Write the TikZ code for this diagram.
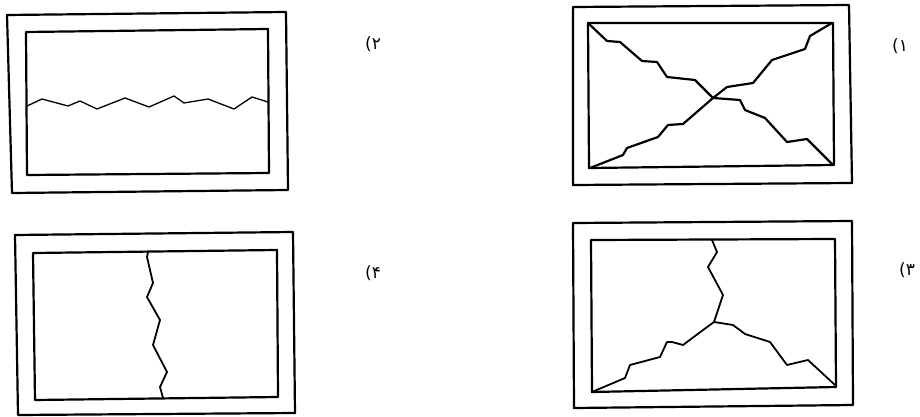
\documentclass[tikz,border=0pt]{standalone}
\usepackage{fontspec}
\newfontfamily\arabicfont[Script=Arabic]{DejaVu Sans}
\begin{document}
\begin{tikzpicture}[x=1pt,y=-1pt,
	winframe/.style={line width=2.2pt,line join=round},
	crack/.style={line width=1.8pt,line join=round},
	numlabel/.style={font=\arabicfont\fontsize{17}{17}\selectfont}]
	\useasboundingbox (0,0) rectangle (920,417);
	\draw[winframe] (7,15) -- (286,12) -- (288,190) -- (12,193) -- cycle;
	\draw[winframe] (26,32) -- (268,29) -- (269,173) -- (27,175) -- cycle;
	\draw[crack,line width=1.3pt] plot coordinates{(27,106) (42,99) (68,106) (80,101) (97,109) (125,98)
		(149,107) (174,96) (184,103) (208,99) (234,109) (252,97) (268,102)};
	\draw[winframe] (573,7) -- (849,5) -- (852,183) -- (573,185) -- cycle;
	\draw[winframe] (588,23) -- (833,23) -- (834,165) -- (589,168) -- cycle;
	\draw[crack,line width=2.2pt] plot coordinates{(588,23) (607,41) (620,42) (642,61) (657,62) (667,77)
		(695,80) (713,98) (740,100) (745,110) (765,118) (787,142) (807,139) (833,165)};
	\draw[crack,line width=2.2pt] plot coordinates{(590,168) (623,155) (627,148) (658,137) (668,125) (683,124)
		(713,98) (727,87) (753,83) (772,60) (805,49) (810,36) (832,23)};
	\draw[winframe] (15,235) -- (293,232) -- (295,413) -- (18,415) -- cycle;
	\draw[winframe] (33,253) -- (277,250) -- (278,397) -- (35,400) -- cycle;
	\draw[crack] plot coordinates{(148,252) (147,257) (153,283) (147,297) (160,320) (153,345)
		(167,372) (160,387) (163,398)};
	\draw[winframe] (573,223) -- (852,221) -- (853,405) -- (574,408) -- cycle;
	\draw[winframe] (591,240) -- (835,239) -- (836,387) -- (592,392) -- cycle;
	\draw[crack] plot coordinates{(712,240) (717,252) (708,267) (723,295) (718,310) (714,322)};
	\draw[crack] plot coordinates{(714,322) (703,330) (683,345) (672,342) (667,342) (660,357)
		(630,365) (625,378) (592,392)};
	\draw[crack] plot coordinates{(714,322) (733,325) (745,334) (770,342) (787,365) (808,360) (835,385)};
	\node[numlabel] (l2) at (373,44) {۲)};
	\node[numlabel] (l1) at (900,46) {۱)};
	\node[numlabel] (l4) at (373,273) {۴)};
	\node[numlabel] (l3) at (907,270) {۳)};
\end{tikzpicture}
\end{document}
